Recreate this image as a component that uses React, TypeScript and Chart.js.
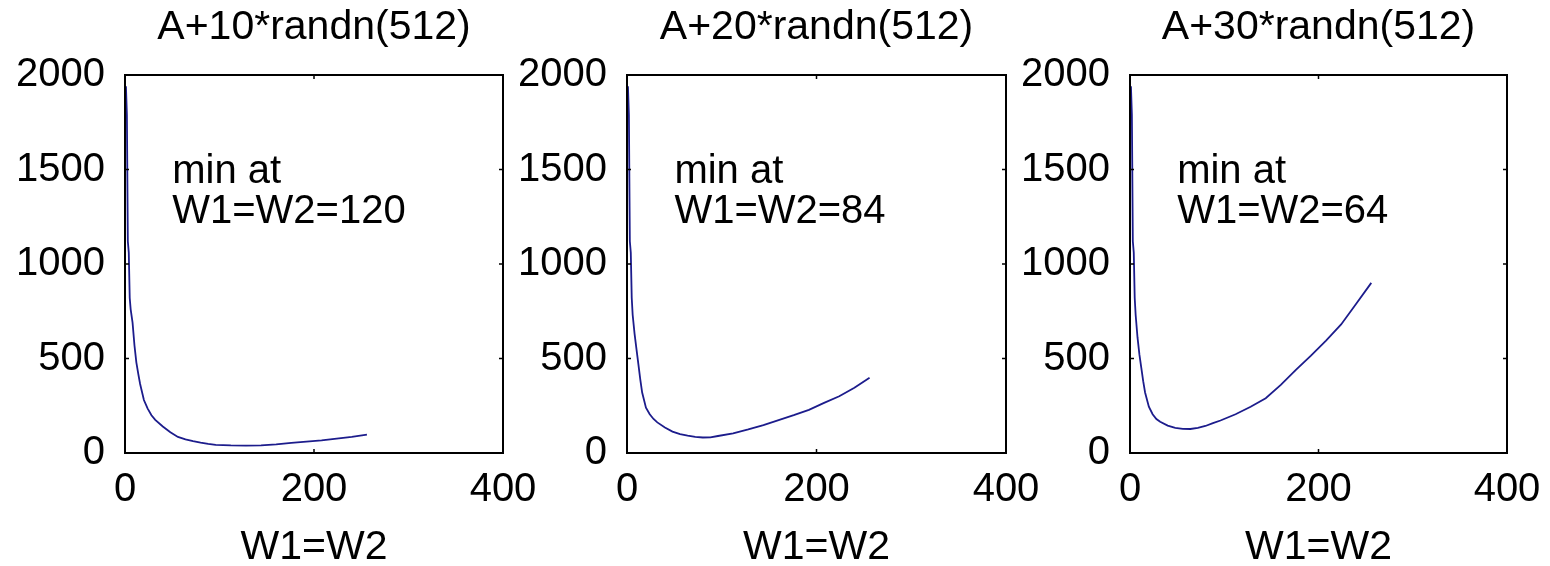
import React, { useEffect, useRef } from 'react';
import { Chart, registerables } from 'chart.js';

Chart.register(...registerables);

// ---- data ----
const TITLES = ['A+10*randn(512)', 'A+20*randn(512)', 'A+30*randn(512)'];
const MIN_LINE_1 = 'min at';
const MIN_LABELS = ['W1=W2=120', 'W1=W2=84', 'W1=W2=64'];
const X_LABEL = 'W1=W2';
const X_TICK_STEP = 200;
const X_MAX = 400;
const Y_TICK_STEP = 500;
const Y_MAX = 2000;
const ANNOT_X = 50;
const ANNOT_Y = 1430;

const W = [1, 2, 3, 4, 5, 6, 8, 10, 12, 14, 16, 20, 24, 28, 32, 40, 48, 56, 64, 72, 80, 88, 96, 112, 128, 144, 160, 176, 192, 208, 224, 240, 256];

const ERR_10 = [1940, 1790, 1120, 1060, 820, 760, 690, 570, 480, 420, 365, 280, 235, 200, 175, 140, 110, 85, 72, 63, 55, 48, 43, 40, 39, 40, 46, 54, 60, 67, 76, 85, 97];
const ERR_20 = [1940, 1790, 1120, 1060, 820, 730, 630, 550, 470, 390, 320, 240, 205, 180, 162, 135, 113, 100, 92, 85, 82, 83, 90, 104, 125, 148, 174, 200, 228, 265, 300, 345, 398];
const ERR_30 = [1940, 1790, 1120, 1060, 820, 730, 610, 520, 450, 380, 320, 245, 205, 180, 165, 145, 133, 128, 127, 133, 143, 158, 172, 205, 245, 290, 360, 440, 515, 595, 680, 790, 900];

const SERIES = [ERR_10, ERR_20, ERR_30];

// ---- layout ----
const CW = 1550;
const CH = 566;
const LEFTS = [125, 627, 1130];
const RIGHTS = [503, 1006, 1507];
const TOP = 75;
const BOTTOM = 453;
const Y_AXIS_W = 110;
const X_AXIS_H = CH - BOTTOM;
const FONT = '"Liberation Sans", Arial, Helvetica, sans-serif';
const LINE_COLOR = '#1c1c8c';

const boxPlugin = {
  id: 'matlabBox',
  afterDatasetsDraw(chart: any) {
    const { ctx, chartArea } = chart;
    const xs = chart.scales.x;
    const ys = chart.scales.y;
    const { left, right, top, bottom } = chartArea;
    ctx.save();
    ctx.strokeStyle = '#000';
    ctx.lineWidth = 2;
    ctx.strokeRect(left, top, right - left, bottom - top);
    ctx.lineWidth = 1.5;
    const tl = 4;
    ctx.beginPath();
    xs.ticks.forEach((t: any) => {
      const p = xs.getPixelForValue(t.value);
      ctx.moveTo(p, bottom);
      ctx.lineTo(p, bottom - tl);
      ctx.moveTo(p, top);
      ctx.lineTo(p, top + tl);
    });
    ys.ticks.forEach((t: any) => {
      const p = ys.getPixelForValue(t.value);
      ctx.moveTo(left, p);
      ctx.lineTo(left + tl, p);
      ctx.moveTo(right, p);
      ctx.lineTo(right - tl, p);
    });
    ctx.stroke();
    ctx.restore();
  },
};

const annotPlugin = {
  id: 'minAnnot',
  afterDraw(chart: any) {
    const opts = chart.options.plugins.minAnnot;
    if (!opts) return;
    const { ctx } = chart;
    const x = chart.scales.x.getPixelForValue(opts.x);
    const y = chart.scales.y.getPixelForValue(opts.y);
    ctx.save();
    ctx.fillStyle = '#000';
    ctx.font = `40px ${FONT}`;
    ctx.textAlign = 'left';
    ctx.textBaseline = 'alphabetic';
    opts.lines.forEach((s: string, i: number) => ctx.fillText(s, x, y + i * 40));
    ctx.restore();
  },
};

function Panel({ idx }: { idx: number }) {
  const ref = useRef<HTMLCanvasElement | null>(null);
  useEffect(() => {
    if (!ref.current) return;
    const data = W.map((w, i) => ({ x: w, y: SERIES[idx][i] }));
    const chart = new Chart(ref.current, {
      type: 'line',
      data: {
        datasets: [
          {
            data,
            borderColor: LINE_COLOR,
            borderWidth: 1.8,
            pointRadius: 0,
            tension: 0,
            fill: false,
          },
        ],
      },
      options: {
        animation: false,
        responsive: false,
        devicePixelRatio: 1,
        layout: {
          padding: {
            left: LEFTS[idx] - Y_AXIS_W,
            right: CW - RIGHTS[idx],
            top: 0,
            bottom: 0,
          },
        },
        scales: {
          x: {
            type: 'linear',
            min: 0,
            max: X_MAX,
            grid: { display: false, drawTicks: false },
            border: { display: false },
            ticks: {
              stepSize: X_TICK_STEP,
              padding: 17,
              color: '#000',
              font: { family: FONT, size: 40, lineHeight: 1 },
              maxRotation: 0,
              autoSkip: false,
              callback: (v: any) => String(v),
            },
            title: {
              display: true,
              text: X_LABEL,
              color: '#000',
              font: { family: FONT, size: 41, lineHeight: 0.88 },
              padding: { top: 0, bottom: 0 },
            },
            afterFit(scale: any) {
              scale.height = X_AXIS_H;
              scale.paddingLeft = 0;
              scale.paddingRight = 0;
            },
          },
          y: {
            type: 'linear',
            min: 0,
            max: Y_MAX,
            grid: { display: false, drawTicks: false },
            border: { display: false },
            ticks: {
              stepSize: Y_TICK_STEP,
              padding: 20,
              color: '#000',
              font: { family: FONT, size: 40, lineHeight: 1 },
              callback: (v: any) => String(v),
            },
            afterFit(scale: any) {
              scale.width = Y_AXIS_W;
              scale.paddingTop = 0;
              scale.paddingBottom = 0;
            },
          },
        },
        plugins: {
          legend: { display: false },
          tooltip: { enabled: false },
          title: {
            display: true,
            text: TITLES[idx],
            color: '#000',
            fullSize: false,
            font: { family: FONT, size: 41, lineHeight: 1, weight: 'normal' },
            padding: { top: 7, bottom: TOP - 41 - 7 },
          },
          // @ts-ignore
          minAnnot: { x: ANNOT_X, y: ANNOT_Y, lines: [MIN_LINE_1, MIN_LABELS[idx]] },
        },
      } as any,
      plugins: [boxPlugin, annotPlugin],
    });
    return () => chart.destroy();
  }, [idx]);
  return (
    <canvas
      ref={ref}
      width={CW}
      height={CH}
      style={{ position: 'absolute', left: 0, top: 0, width: CW + 'px', height: CH + 'px' }}
    />
  );
}

export default function App() {
  return (
    <div
      style={{
        position: 'absolute',
        left: 0,
        top: 0,
        width: CW,
        height: CH,
        background: '#fff',
        overflow: 'hidden',
      }}
    >
      {TITLES.map((_, i) => (
        <Panel key={i} idx={i} />
      ))}
    </div>
  );
}
